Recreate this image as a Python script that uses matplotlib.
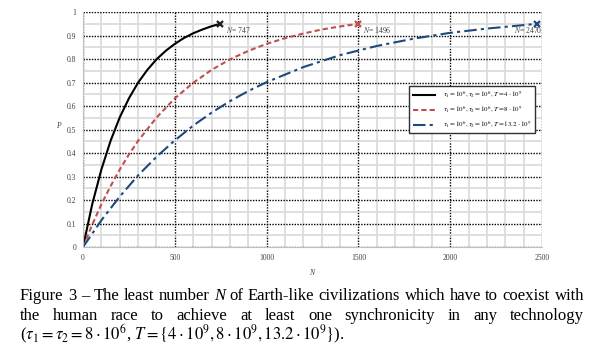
import numpy as np
import matplotlib
matplotlib.use("Agg")
import matplotlib.pyplot as plt
from matplotlib.ticker import MultipleLocator

plt.rcParams['font.family'] = ['Liberation Serif', 'DejaVu Serif']
plt.rcParams['mathtext.fontset'] = 'stix'

# values
n_black = [0, 50, 100, 150, 200, 250, 300, 350, 400, 450, 500, 550, 600, 650, 700, 747]
p_black = [0, 0.182, 0.330, 0.452, 0.552, 0.633, 0.700, 0.754, 0.799, 0.835, 0.865, 0.890,
           0.910, 0.926, 0.940, 0.950]
n_red = [0, 50, 100, 150, 200, 250, 300, 400, 500, 600, 700, 800, 900, 1000, 1100, 1200,
         1300, 1400, 1496]
p_red = [0, 0.095, 0.182, 0.259, 0.330, 0.394, 0.452, 0.551, 0.633, 0.699, 0.754, 0.799,
         0.835, 0.865, 0.889, 0.909, 0.926, 0.939, 0.950]
n_blue = [0, 100, 200, 300, 400, 500, 600, 700, 800, 900, 1000, 1200, 1400, 1600, 1800,
          2000, 2200, 2470]
p_blue = [0, 0.114, 0.215, 0.305, 0.384, 0.454, 0.517, 0.572, 0.621, 0.664, 0.702, 0.766,
          0.817, 0.856, 0.887, 0.912, 0.930, 0.950]

labels = [r"$\tau_1=10^6, \tau_2=10^6, T=4\cdot10^9$",
          r"$\tau_1=10^6, \tau_2=10^6, T=8\cdot10^9$",
          r"$\tau_1=10^6, \tau_2=10^6, T=13.2\cdot10^9$"]
end_labels = ["747", "1496", "2470"]

fig = plt.figure(figsize=(5.99, 3.57), dpi=100)
ax = fig.add_axes([0.1386, 0.308, 0.7663, 0.658])

ax.set_xlim(0, 2500)
ax.set_ylim(0, 1)
ax.xaxis.set_major_locator(MultipleLocator(500))
ax.xaxis.set_minor_locator(MultipleLocator(100))
ax.yaxis.set_major_locator(MultipleLocator(0.1))
ax.yaxis.set_minor_locator(MultipleLocator(0.05))
ax.grid(which='minor', color='#d9d9d9', lw=1.2, ls='-')
ax.grid(which='major', color='black', lw=1.0, ls=(0, (1, 1)))
ax.set_axisbelow(True)
ax.tick_params(which='both', length=0, labelsize=5.5, labelcolor='#404040', pad=5)
ax.set_yticks(np.arange(0, 1.01, 0.1))
ax.set_yticklabels(["0", "0.1", "0.2", "0.3", "0.4", "0.5", "0.6", "0.7", "0.8", "0.9", "1"])
for s in ['top', 'right']:
    ax.spines[s].set_visible(False)
for s in ['left', 'bottom']:
    ax.spines[s].set_color('#bfbfbf')

ax.plot(n_black, p_black, color='black', lw=1.5, label=labels[0])
ax.plot(n_red, p_red, color='#c0504d', lw=1.5, ls=(0, (2.5, 1.5)), label=labels[1])
ax.plot(n_blue, p_blue, color='#1f497d', lw=1.5, ls=(0, (6, 2, 1.5, 2)), label=labels[2])

ax.plot(n_black[-1], p_black[-1], 'x', color='#202020', ms=5, mew=1.6, clip_on=False)
ax.plot(n_red[-1], p_red[-1], 'x', color='#c0504d', ms=5, mew=1.6, clip_on=False)
ax.plot(n_blue[-1], p_blue[-1], 'x', color='#1f497d', ms=5, mew=1.6, clip_on=False)

ax.text(n_black[-1] + 30, p_black[-1] - 0.025, r"$N$= " + end_labels[0], fontsize=5.5,
        color='#404040', va='center', ha='left')
ax.text(n_red[-1] + 30, p_red[-1] - 0.025, r"$N$= " + end_labels[1], fontsize=5.5,
        color='#404040', va='center', ha='left')
ax.text(n_blue[-1] + 30, p_blue[-1] - 0.025, r"$N$= " + end_labels[2], fontsize=5.5,
        color='#404040', va='center', ha='right')

ax.set_xlabel("N", fontsize=5.5, style='italic', color='#404040', labelpad=5, x=0.497)
ax.set_ylabel("P", fontsize=5.5, style='italic', color='#404040', rotation=0, labelpad=6, y=0.5)

leg = ax.legend(loc='upper right', bbox_to_anchor=(0.993, 0.70), fontsize=5,
                fancybox=False, framealpha=1, edgecolor='#303030', handlelength=3.2,
                borderpad=0.5, labelspacing=0.6, handletextpad=1.2)
leg.get_frame().set_linewidth(1.0)

# caption, justified lines placed word by word
renderer = fig.canvas.get_renderer()
cap_size = 12
x0, x1 = 20 / 599, 584 / 599


def justify(words, y):
    items = []
    for w, it in words:
        t = fig.text(0, y, w, fontsize=cap_size, style='italic' if it else 'normal',
                     va='baseline', ha='left')
        items.append(t)
    widths = [t.get_window_extent(renderer).width / fig.bbox.width for t in items]
    gap = (x1 - x0 - sum(widths)) / (len(items) - 1)
    x = x0
    for t, wd in zip(items, widths):
        t.set_x(x)
        x += wd + gap


line1 = [(w, w == "N") for w in
         "Figure 3 – The least number N of Earth-like civilizations which have to coexist with".split()]
line2 = [(w, False) for w in
         "the human race to achieve at least one synchronicity in any technology".split()]
justify(line1, 1 - 300 / 357)
justify(line2, 1 - 320 / 357)
fig.text(x0, 1 - 340 / 357,
         r"($\tau_1=\tau_2=8\cdot10^6$, $T=\{4\cdot10^9,8\cdot10^9,13.2\cdot10^9\}$).",
         fontsize=cap_size, va='baseline', ha='left')

fig.savefig("out.png", dpi=100)
